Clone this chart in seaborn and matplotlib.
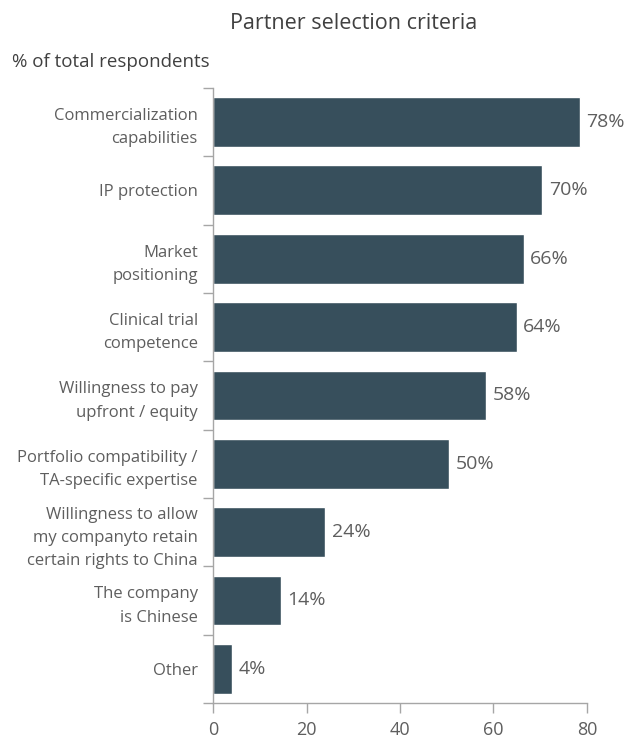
import matplotlib
matplotlib.use("Agg")
import matplotlib.pyplot as plt
import seaborn as sns
import pandas as pd

categories = [
    "Commercialization\ncapabilities",
    "IP protection",
    "Market\npositioning",
    "Clinical trial\ncompetence",
    "Willingness to pay\nupfront / equity",
    "Portfolio compatibility /\nTA-specific expertise",
    "Willingness to allow\nmy companyto retain\ncertain rights to China",
    "The company\nis Chinese",
    "Other",
]
values = [78.5, 70.5, 66.5, 65, 58.5, 50.5, 24, 14.5, 4]
value_labels = ["78%", "70%", "66%", "64%", "58%", "50%", "24%", "14%", "4%"]
x_ticks = [0, 20, 40, 60, 80]

sns.set_theme(style="white")
plt.rcParams["font.family"] = ["Open Sans", "DejaVu Sans"]

text_color = "#5e5e5e"
spine_color = "#a6a6a6"
bar_color = "#374f5c"

df = pd.DataFrame({"criteria": categories, "pct": values})

fig = plt.figure(figsize=(6.4, 7.45), dpi=100)
ax = fig.add_axes([0.333, 0.0564, 0.584, 0.8256])

sns.barplot(data=df, y="criteria", x="pct", color=bar_color, width=0.73,
            saturation=1, ax=ax, orient="h")

n = len(categories)
ax.set_ylim(n - 0.5, -0.5)
ax.set_xlim(0, 80)
ax.set_xticks(x_ticks)
ax.set_xticklabels([str(t) for t in x_ticks], fontsize=13, color=text_color)
ax.set_xlabel("")
ax.set_ylabel("")

ax.set_yticks(range(n))
ax.set_yticklabels(categories, fontsize=12, color=text_color, linespacing=1.6)
ax.tick_params(axis="y", which="major", left=False, length=0, pad=11)
ax.set_yticks([i - 0.5 for i in range(n + 1)], minor=True)
ax.tick_params(axis="y", which="minor", left=True, length=7, width=1,
               color=spine_color, direction="out")
ax.tick_params(axis="x", which="major", bottom=True, length=7, width=1,
               color=spine_color, direction="out", pad=6)

for side in ["top", "right"]:
    ax.spines[side].set_visible(False)
for side in ["left", "bottom"]:
    ax.spines[side].set_color(spine_color)
    ax.spines[side].set_linewidth(1)

for i, (v, lab) in enumerate(zip(values, value_labels)):
    ax.text(v + 1.4, i, lab, va="center", ha="left", fontsize=14, color=text_color)

fig.text(0.553, 0.968, "Partner selection criteria", ha="center", va="center",
         fontsize=15.5, color="#404040")
fig.text(0.019, 0.917, "% of total respondents", ha="left", va="center",
         fontsize=13.5, color="#404040")

fig.savefig("out.png", dpi=100)
